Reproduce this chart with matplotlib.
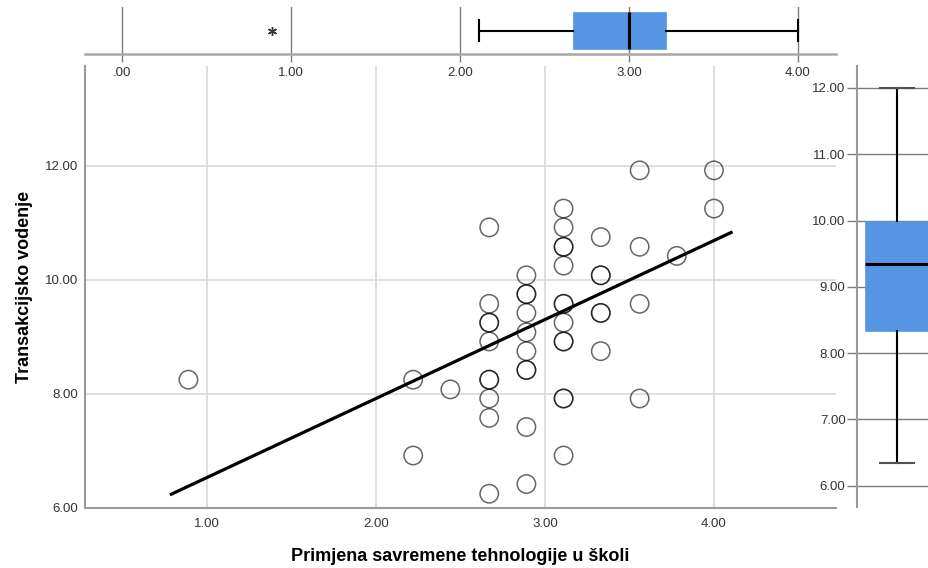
import matplotlib
matplotlib.use("Agg")
import matplotlib.pyplot as plt
from matplotlib.ticker import FuncFormatter
import numpy as np

plt.rcParams["font.family"] = ["Liberation Sans", "DejaVu Sans"]

# Primjena savremene tehnologije u školi (x) vs Transakcijsko vođenje (y)
tech = [0.89,
        2.22, 2.22,
        2.44,
        2.67, 2.67, 2.67, 2.67, 2.67, 2.67, 2.67, 2.67, 2.67, 2.67,
        2.89, 2.89, 2.89, 2.89, 2.89, 2.89, 2.89, 2.89, 2.89, 2.89,
        3.11, 3.11, 3.11, 3.11, 3.11, 3.11, 3.11, 3.11, 3.11, 3.11, 3.11, 3.11, 3.11,
        3.33, 3.33, 3.33, 3.33, 3.33, 3.33,
        3.56, 3.56, 3.56, 3.56,
        3.78,
        4.00, 4.00]
lead = [8.25,
        8.25, 6.92,
        8.08,
        10.92, 9.58, 9.25, 9.25, 8.92, 8.25, 8.25, 7.92, 7.58, 6.25,
        10.08, 9.75, 9.75, 9.42, 9.08, 8.75, 8.42, 8.42, 7.42, 6.42,
        11.25, 10.92, 10.58, 10.58, 10.25, 9.58, 9.58, 9.25, 8.92, 8.92, 7.92, 7.92, 6.92,
        10.75, 10.08, 10.08, 9.42, 9.42, 8.75,
        11.92, 10.58, 9.58, 7.92,
        10.42,
        11.92, 11.25]

# linear fit line
fit_intercept = 5.15
fit_slope = 1.385
fit_x_range = [0.78, 4.11]

# marginal box plots
tech_box = {"med": 3.00, "q1": 2.67, "q3": 3.22, "whislo": 2.11, "whishi": 4.00, "fliers": []}
tech_outliers = [0.89]
lead_box = {"med": 9.35, "q1": 8.34, "q3": 10.00, "whislo": 6.35, "whishi": 12.00, "fliers": []}

BLUE = "#5694e4"
GRID_LIGHT = "#d6d6d6"
GRID_DARK = "#7c7c7c"
SPINE = "#9a9a9a"
TXT = "#333333"
TICK_FS = 9.5


def spss_fmt(v, _pos=None):
    s = f"{v:.2f}"
    return s[1:] if s.startswith("0.") else s


W, H = 929, 568
fig = plt.figure(figsize=(W / 100, H / 100), dpi=100)

# ---- main scatter ----
ax = fig.add_axes([85 / W, 1 - 508 / H, (836 - 85) / W, (508 - 66) / H])
ax.set_xlim(0.278, 4.722)
ax.set_ylim(6.0, 13.75)
ax.set_xticks([1, 2, 3, 4])
ax.set_yticks([6, 8, 10, 12])
ax.xaxis.set_major_formatter(FuncFormatter(spss_fmt))
ax.yaxis.set_major_formatter(FuncFormatter(spss_fmt))
ax.grid(True, color=GRID_LIGHT, lw=1.1)
ax.set_axisbelow(True)
for side in ("top", "right"):
    ax.spines[side].set_visible(False)
for side in ("left", "bottom"):
    ax.spines[side].set_color(SPINE)
    ax.spines[side].set_linewidth(1.5)
ax.tick_params(axis="both", length=0, labelsize=TICK_FS, colors=TXT)
ax.tick_params(axis="x", pad=7)
ax.tick_params(axis="y", pad=5)

ax.scatter(tech, lead, s=175, facecolors="none", edgecolors=(0, 0, 0, 0.6),
           linewidths=1.1, zorder=3)
xs = np.array(fit_x_range)
ax.plot(xs, fit_intercept + fit_slope * xs, color="black", lw=2.3,
        solid_capstyle="butt", zorder=4)

ax.set_xlabel("Primjena savremene tehnologije u školi", fontsize=13,
              fontweight="bold", color="black")
ax.set_ylabel("Transakcijsko vodenje", fontsize=13, fontweight="bold", color="black")
ax.xaxis.set_label_coords(0.5, -0.09)
ax.yaxis.set_label_coords(-0.069, 0.5)

# ---- top box plot (x variable) ----
axt = fig.add_axes([85 / W, 1 - 54 / H, (836 - 85) / W, 47 / H])
axt.patch.set_alpha(0)
axt.bxp([tech_box], positions=[0.5], widths=0.79, capwidths=0.43,
        orientation="horizontal", patch_artist=True, showfliers=False,
        manage_ticks=False,
        boxprops=dict(facecolor=BLUE, edgecolor=BLUE, lw=0.5),
        medianprops=dict(color="black", lw=2.2),
        whiskerprops=dict(color="black", lw=1.5),
        capprops=dict(color="black", lw=1.5))
axt.plot(tech_outliers, [0.49] * len(tech_outliers), ls="none",
         marker=(6, 2, 0), ms=6.5, mew=1.0, color=TXT)
axt.set_xlim(-0.219, 4.225)
axt.set_ylim(0, 1)
axt.set_xticks([0, 1, 2, 3, 4])
axt.set_yticks([])
axt.xaxis.set_major_formatter(FuncFormatter(spss_fmt))
for side in ("top", "right", "left"):
    axt.spines[side].set_visible(False)
axt.spines["bottom"].set_color("#a8a8a8")
axt.spines["bottom"].set_linewidth(1.8)
axt.grid(True, axis="x", color=GRID_DARK, lw=1.0)
axt.set_axisbelow(True)
axt.tick_params(axis="x", direction="out", length=5.8, width=1.0,
                color=GRID_DARK, pad=3.5, labelsize=TICK_FS, labelcolor=TXT)

# ---- right box plot (y variable) ----
axr = fig.add_axes([857 / W, 1 - 507 / H, 72 / W, 441 / H])
axr.patch.set_alpha(0)
axr.bxp([lead_box], positions=[0.556], widths=0.889, capwidths=0.46,
        patch_artist=True, showfliers=False, manage_ticks=False,
        boxprops=dict(facecolor=BLUE, edgecolor=BLUE, lw=0.5),
        medianprops=dict(color="black", lw=2.2),
        whiskerprops=dict(color="black", lw=1.5),
        capprops=dict(color="#505050", lw=1.5))
axr.set_xlim(0, 1)
axr.set_ylim(5.68, 12.33)
axr.set_yticks([6, 7, 8, 9, 10, 11, 12])
axr.set_xticks([])
axr.yaxis.set_major_formatter(FuncFormatter(spss_fmt))
for side in ("top", "right", "bottom"):
    axr.spines[side].set_visible(False)
axr.spines["left"].set_color(SPINE)
axr.spines["left"].set_linewidth(1.5)
axr.grid(True, axis="y", color=GRID_DARK, lw=1.0)
axr.set_axisbelow(True)
axr.tick_params(axis="y", direction="out", length=7.2, width=1.0,
                color=GRID_DARK, pad=1, labelsize=TICK_FS, labelcolor=TXT)

fig.savefig("out.png", dpi=100)
